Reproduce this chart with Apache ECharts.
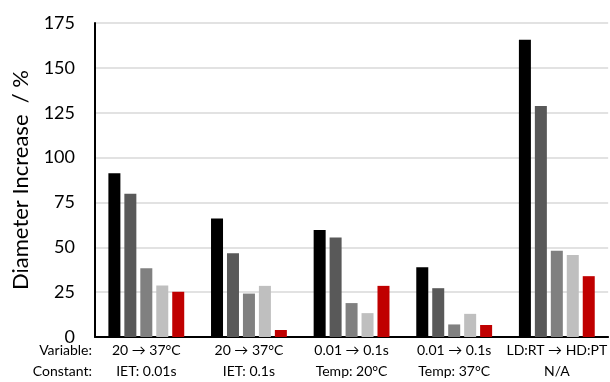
<!DOCTYPE html>
<html>
<head>
<meta charset="utf-8">
<script src="https://cdn.jsdelivr.net/npm/echarts@6/dist/echarts.min.js"></script>
<style>
  html, body { margin: 0; padding: 0; background: #fff; }
  #chart { width: 610px; height: 382px; }
</style>
</head>
<body>
<div id="chart"></div>
<script>
// Condition groups: what was varied and what was held constant
const variables = ['20 → 37°C', '20 → 37°C', '0.01 → 0.1s', '0.01 → 0.1s', 'LD:RT → HD:PT'];
const constants = ['IET: 0.01s', 'IET: 0.1s', 'Temp: 20°C', 'Temp: 37°C', 'N/A'];

// Diameter increase (%) for the five bars in each group
const seriesA = [91.3, 66.1, 59.6, 38.9, 165.7];
const seriesB = [79.8, 46.7, 55.5, 27.2, 128.7];
const seriesC = [38.3, 24.2, 18.9, 7.0, 48.1];
const seriesD = [28.7, 28.5, 13.3, 12.9, 45.7];
const seriesE = [25.2, 3.9, 28.5, 6.7, 33.9];

const yTicks = { min: 0, max: 175, interval: 25 };

const colors = ['#000000', '#595959', '#808080', '#bfbfbf', '#c00000'];
const allSeries = [seriesA, seriesB, seriesC, seriesD, seriesE];

const fontFamily = 'Lato, "Open Sans", sans-serif';

const chart = echarts.init(document.getElementById('chart'));
chart.setOption({
  animation: false,
  grid: { left: 95, right: 0, top: 23, bottom: 44, containLabel: false },
  xAxis: {
    type: 'category',
    data: variables.map((v, i) => v + '\n' + constants[i]),
    axisLine: { show: true, lineStyle: { color: '#000', width: 2 } },
    axisTick: { show: false },
    axisLabel: {
      color: '#000', fontSize: 14, lineHeight: 21, margin: 3,
      fontFamily: fontFamily, interval: 0
    }
  },
  yAxis: {
    type: 'value',
    min: yTicks.min, max: yTicks.max, interval: yTicks.interval,
    name: 'Diameter Increase  / %',
    nameLocation: 'middle',
    nameGap: 63,
    nameTextStyle: { color: '#000', fontSize: 22, fontFamily: fontFamily },
    axisLine: { show: true, lineStyle: { color: '#000', width: 2 } },
    axisTick: { show: false },
    axisLabel: { color: '#000', fontSize: 18, margin: 20, fontFamily: fontFamily },
    splitLine: { show: true, lineStyle: { color: '#d9d9d9', width: 1.5 } }
  },
  series: allSeries.map((data, i) => ({
    type: 'bar',
    data: data,
    barWidth: 12,
    barGap: '33%',
    barCategoryGap: '26%',
    itemStyle: { color: colors[i] }
  })),
  graphic: [
    { type: 'text', right: 610 - 92, top: 343,
      style: { text: 'Variable:', fontSize: 14, fontFamily: fontFamily, fill: '#000', align: 'right' } },
    { type: 'text', right: 610 - 92, top: 364,
      style: { text: 'Constant:', fontSize: 14, fontFamily: fontFamily, fill: '#000', align: 'right' } }
  ]
});
</script>
</body>
</html>
